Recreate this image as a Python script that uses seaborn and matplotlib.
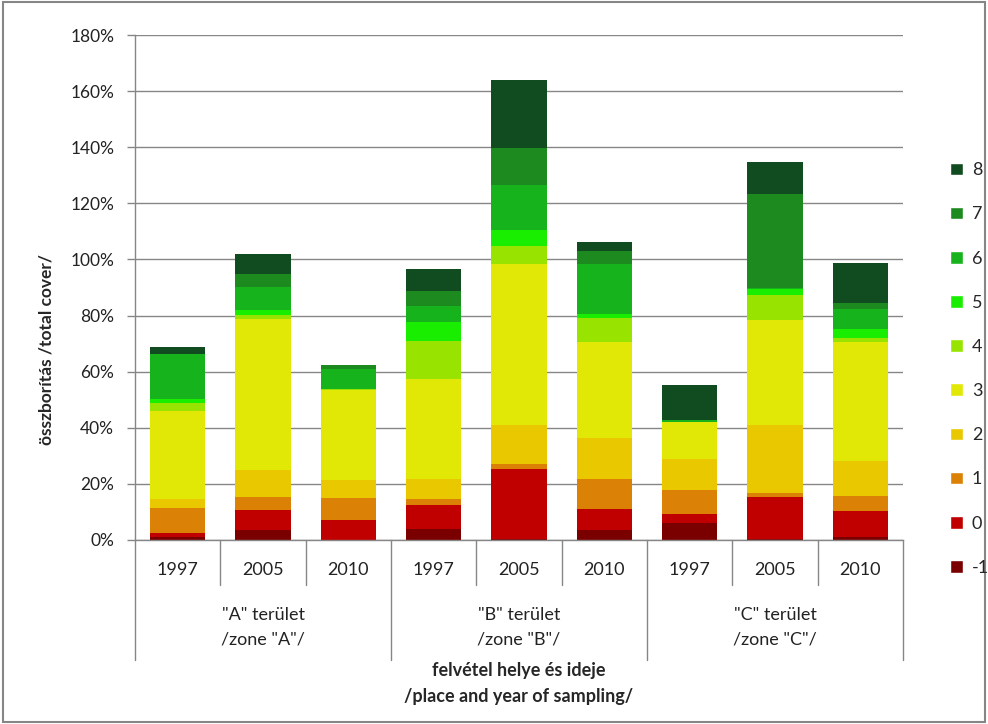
import numpy as np
import pandas as pd
import matplotlib
matplotlib.use("Agg")
import matplotlib.pyplot as plt
import seaborn as sns
from matplotlib.patches import Patch, Rectangle
from matplotlib.transforms import blended_transform_factory

# categories
zones = ['"A" terület\n/zone "A"/', '"B" terület\n/zone "B"/', '"C" terület\n/zone "C"/']
years = ["1997", "2005", "2010"]
bar_ids = ["A 1997", "A 2005", "A 2010", "B 1997", "B 2005", "B 2010", "C 1997", "C 2005", "C 2010"]
classes = ["-1", "0", "1", "2", "3", "4", "5", "6", "7", "8"]

# cover (%) per class, one value per bar
cls_m1 = [1.1, 3.6, 0.0, 4.0, 0.2, 3.7, 6.2, 0.4, 1.2]
cls_0 = [1.4, 7.2, 7.2, 8.6, 25.1, 7.2, 2.9, 14.8, 9.0]
cls_1 = [8.9, 4.6, 7.9, 2.1, 1.8, 10.7, 8.6, 1.4, 5.4]
cls_2 = [3.2, 9.7, 6.4, 7.2, 13.9, 14.7, 11.1, 24.4, 12.5]
cls_3 = [31.5, 53.6, 31.8, 35.4, 57.5, 34.3, 13.3, 37.3, 42.6]
cls_4 = [2.9, 1.4, 0.7, 13.6, 6.4, 8.6, 0.0, 9.0, 1.4]
cls_5 = [1.1, 1.8, 0.0, 6.8, 5.7, 1.4, 0.0, 2.2, 3.2]
cls_6 = [16.1, 8.2, 6.8, 5.7, 16.1, 17.9, 0.7, 0.3, 7.2]
cls_7 = [0.0, 4.6, 1.4, 5.4, 13.2, 4.6, 0.0, 33.4, 2.1]
cls_8 = [2.5, 7.2, 0.0, 7.9, 23.9, 3.2, 12.5, 11.5, 14.0]

colors = ["#7a0000", "#c00000", "#db8206", "#eac800", "#e2e805",
          "#98e400", "#1aee00", "#16b31c", "#1c8a1e", "#114c20"]

df = pd.DataFrame(
    np.array([cls_m1, cls_0, cls_1, cls_2, cls_3, cls_4, cls_5, cls_6, cls_7, cls_8]).T,
    index=bar_ids, columns=classes)
cum = df.cumsum(axis=1)

sns.set_theme(style="white")
plt.rcParams["font.family"] = ["Lato", "DejaVu Sans"]
grey = "#868686"

fig = plt.figure(figsize=(9.88, 7.24), dpi=100)
ax = fig.add_axes([135 / 988, 1 - 540 / 724, 768 / 988, 505 / 724])

# stacked bars: draw cumulative totals from the top class down
for i in reversed(range(len(classes))):
    sns.barplot(x=bar_ids, y=cum[classes[i]].values, order=bar_ids, color=colors[i],
                saturation=1, width=0.645, errorbar=None, linewidth=0, ax=ax)

ax.set_xlim(-0.5, 8.5)
ax.set_ylim(0, 180)
ax.set_yticks(np.arange(0, 181, 20))
ax.set_yticklabels([f"{v}%" for v in range(0, 181, 20)], fontsize=12.5, color="#222222")
ax.yaxis.grid(True, color=grey, lw=1)
ax.set_axisbelow(True)
ax.tick_params(axis="y", length=6, width=1, color=grey, pad=9, left=True)
ax.set_xticks([])
ax.set_xlabel("")
ax.set_ylabel("")
for s in ["top", "right"]:
    ax.spines[s].set_visible(False)
for s in ["left", "bottom"]:
    ax.spines[s].set_color(grey)
    ax.spines[s].set_linewidth(1)

# multi-level category axis
tr = blended_transform_factory(ax.transData, ax.transAxes)
for k in range(10):
    xb = k - 0.5
    low = -0.238 if k % 3 == 0 else -0.089
    ax.plot([xb, xb], [0, low], color=grey, lw=1, transform=tr, clip_on=False)
for k in range(9):
    ax.text(k, -0.059, years[k % 3], transform=tr, ha="center", va="center",
            fontsize=13, color="#222222")
for g in range(3):
    ax.text(3 * g + 1, -0.172, zones[g], transform=tr, ha="center", va="center",
            fontsize=13, color="#222222", linespacing=1.65)
ax.text(4, -0.285, "felvétel helye és ideje\n/place and year of sampling/", transform=tr,
        ha="center", va="center", fontsize=13, fontweight="bold", linespacing=1.65)

fig.text(46 / 988, 1 - 350 / 724, "összborítás /total cover/", rotation=90,
         ha="center", va="center", fontsize=12.5, fontweight="bold")

handles = [Patch(facecolor=colors[i], label=classes[i]) for i in reversed(range(len(classes)))]
fig.legend(handles=handles, loc="center left", bbox_to_anchor=(934 / 988, 1 - 369 / 724),
           frameon=False, fontsize=13, handlelength=0.7, handleheight=0.7,
           handletextpad=0.5, labelspacing=1.56)

fig.add_artist(Rectangle((0.003, 0.003), 0.994, 0.994, transform=fig.transFigure,
                         fill=False, edgecolor=grey, lw=1.5))

fig.savefig("out.png", dpi=100)
